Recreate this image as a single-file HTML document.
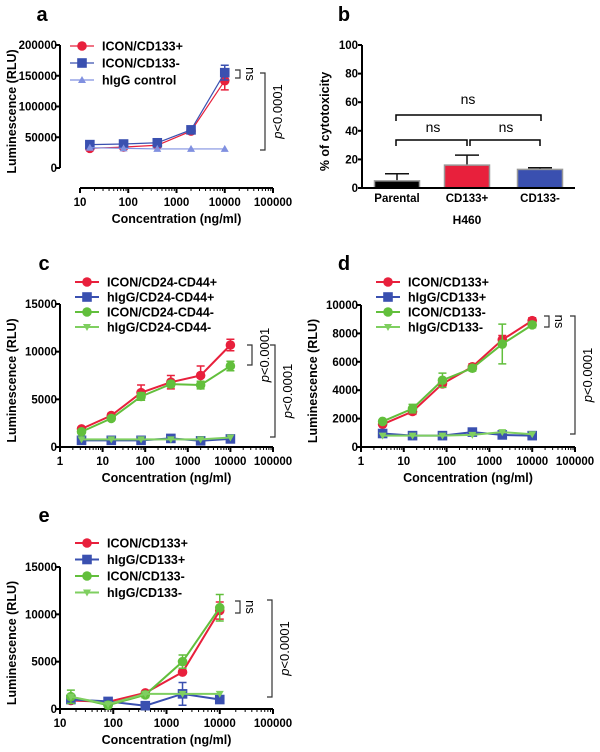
<!DOCTYPE html>
<html><head><meta charset="utf-8"><style>
body{margin:0;background:#fff}
svg{display:block;font-family:"Liberation Sans",Arial,sans-serif;font-weight:bold}
</style></head><body>
<svg id="fig" width="600" height="752" viewBox="0 0 600 752" xmlns="http://www.w3.org/2000/svg"></svg>
<script>
// ---- data ----
const aX=[16,80,400,2000,10000];
const aCD133p=[32000,34000,37000,60000,142000];
const aCD133pErr=[2000,2000,2000,3000,15000];
const aCD133n=[38000,39000,41000,62000,155000];
const aCD133nErr=[2000,2000,2000,3000,12000];
const aIgG=[33000,32000,31000,31000,31000];
const aYTicks=[0,50000,100000,150000,200000];
const bCats=["Parental","CD133+","CD133-"];
const bVals=[5,16,13];
const bErr=[5,7,1.2];
const bYTicks=[0,20,40,60,80,100];
const cX=[3.2,16,80,400,2000,10000];
const cIconP=[1900,3300,5700,6800,7500,10700];
const cIconPErr=[200,200,800,700,1000,600];
const cIgGP=[700,700,700,900,650,850];
const cIconN=[1600,3000,5300,6600,6500,8500];
const cIconNErr=[200,200,400,300,400,500];
const cIgGN=[800,800,800,800,800,1000];
const cYTicks=[0,5000,10000,15000];
const dX=[3.2,16,80,400,2000,10000];
const dIconP=[1600,2500,4450,5650,7550,8900];
const dIconPErr=[100,200,200,200,300,200];
const dIgGP=[950,800,800,1050,850,800];
const dIconN=[1800,2700,4700,5550,7250,8600];
const dIconNErr=[100,300,500,200,1400,200];
const dIgGN=[800,800,800,850,1050,900];
const dYTicks=[0,2000,4000,6000,8000,10000];
const eX=[16,80,400,2000,10000];
const eIconP=[900,750,1700,3900,10400];
const eIconPErr=[300,100,100,100,900];
const eIgGP=[1000,800,350,1600,1000];
const eIgGPErr=[0,0,0,1200,0];
const eIconN=[1300,400,1500,5000,10700];
const eIconNErr=[700,200,300,700,1400];
const eIgGN=[1300,500,1600,1600,1600];
const eYTicks=[0,5000,10000,15000];

const RED="#e8203c",BLUE="#3a50b0",GREEN="#62bf3c",LG="#7fcf60";
const svg=document.getElementById('fig');
const NS="http://www.w3.org/2000/svg";
function el(tag,at,parent){const e=document.createElementNS(NS,tag);for(const k in at)e.setAttribute(k,at[k]);(parent||svg).appendChild(e);return e;}
function txt(s,x,y,size,anchor,parent,rot){const t=el('text',{x:x,y:y,'font-size':size,'text-anchor':anchor||'middle'},parent);if(rot)t.setAttribute('transform',`rotate(${rot} ${x} ${y})`);t.textContent=s;return t;}
function fmt(v){return String(v);}

function marker(g,type,x,y,c){
  if(type==='c')el('circle',{cx:x,cy:y,r:4.8,fill:c},g);
  else if(type==='s')el('rect',{x:x-4.8,y:y-4.8,width:9.6,height:9.6,fill:c},g);
  else if(type==='t')el('polygon',{points:`${x-4},${y+3} ${x+4},${y+3} ${x},${y-4}`,fill:c},g);
  else el('polygon',{points:`${x-4},${y-3} ${x+4},${y-3} ${x},${y+4}`,fill:c},g);
}

function logPanel(o){
  const g=el('g',{},svg);
  
  
  const X=v=>o.x0+(Math.log10(v)-o.lmin)*(o.x1-o.x0)/(o.lmax-o.lmin);
  const Y=v=>o.y0-(v/o.ymax)*(o.y0-o.y1);
  el('line',{x1:o.ax,y1:o.y0,x2:o.ax,y2:o.y1,stroke:'#000','stroke-width':2},g);
  o.yt.forEach(v=>{el('line',{x1:o.ax-4,y1:Y(v),x2:o.ax,y2:Y(v),stroke:'#000','stroke-width':2},g);txt(fmt(v),o.ax-3,Y(v)+4,11.5,'end',g);});
  el('line',{x1:o.x0,y1:o.xy,x2:o.x1,y2:o.xy,stroke:'#000','stroke-width':2},g);
  for(let d=o.lmin;d<=o.lmax;d++){
    el('line',{x1:X(10**d),y1:o.xy,x2:X(10**d),y2:o.xy+5,stroke:'#000','stroke-width':2},g);
    txt(fmt(10**d),X(10**d),o.xy+18,11.5,'middle',g);
    if(d<o.lmax)for(let m=2;m<10;m++)el('line',{x1:X(m*10**d),y1:o.xy,x2:X(m*10**d),y2:o.xy+3,stroke:'#000','stroke-width':1},g);
  }
  txt('Concentration (ng/ml)',(o.x0+o.x1)/2,o.xy+35,12.5,'middle',g);
  txt('Luminescence (RLU)',o.ax-44,(o.y0+o.y1)/2+5,12.5,'middle',g,-90);
  txt(o.label,o.lx,o.ly,20,'middle',g);
  o.series.forEach((s,i)=>{
    const sg=el('g',{},g);
    
    
    const pts=o.xs.map((x,j)=>X(x)+','+Y(s.v[j])).join(' ');
    el('polyline',{points:pts,fill:'none',stroke:s.c,'stroke-width':s.w||2},sg);
    if(s.e)o.xs.forEach((x,j)=>{if(!s.e[j])return;const px=X(x),a=Y(s.v[j]+s.e[j]),b=Y(s.v[j]-s.e[j]);
      el('path',{d:`M${px},${a}V${b}M${px-4},${a}H${px+4}M${px-4},${b}H${px+4}`,stroke:s.c,'stroke-width':1.5,fill:'none'},sg);});
    o.xs.forEach((x,j)=>marker(sg,s.m,X(x),Y(s.v[j]),s.c));
    const ly=o.legY+i*o.legDy;
    const lg=el('g',{},g);
    
    
    el('line',{x1:o.legX,y1:ly,x2:o.legX+24,y2:ly,stroke:s.c,'stroke-width':s.w||2},lg);
    marker(lg,s.m,o.legX+12,ly,s.c);
    txt(s.n,o.legX+32,ly+4.5,12.5,'start',lg);
  });
  (o.br||[]).forEach(b=>{
    el('path',{d:`M${b.x-5},${b.y1}H${b.x}V${b.y2}H${b.x-5}`,stroke:'#333','stroke-width':1.2,fill:'none'},g);
    if(b.t==='ns'){const t=txt('ns',b.x+6,(b.y1+b.y2)/2,13,'middle',g,90);t.setAttribute('font-weight','normal');}
    else{const t=txt('',b.x+17,(b.y1+b.y2)/2,13,'middle',g,-90);t.setAttribute('font-weight','normal');
      const i1=el('tspan',{'font-style':'italic'},t);i1.textContent='p';const i2=el('tspan',{},t);i2.textContent='<0.0001';}
  });
}

logPanel({name:'panel-a',label:'a',lx:42,ly:21,ax:60,y0:168,y1:45,ymax:200000,yt:aYTicks,x0:80,x1:273,xy:188,lmin:1,lmax:5,xs:aX,
  legX:70,legY:46,legDy:17,
  series:[{n:'ICON/CD133+',v:aCD133p,e:aCD133pErr,c:RED,m:'c',w:1.2},{n:'ICON/CD133-',v:aCD133n,e:aCD133nErr,c:BLUE,m:'s',w:1.2},{n:'hIgG control',v:aIgG,c:'#8090e0',m:'t',w:1.2}],
  br:[{x:240,y1:70,y2:78,t:'ns'},{x:265,y1:73,y2:150,t:'p'}]});
logPanel({name:'panel-c',label:'c',lx:44,ly:270,ax:60,y0:447,y1:304,ymax:15000,yt:cYTicks,x0:60,x1:273,xy:447,lmin:0,lmax:5,xs:cX,
  legX:75,legY:282,legDy:15,
  series:[{n:'ICON/CD24-CD44+',v:cIconP,e:cIconPErr,c:RED,m:'c'},{n:'hIgG/CD24-CD44+',v:cIgGP,c:BLUE,m:'s'},{n:'ICON/CD24-CD44-',v:cIconN,e:cIconNErr,c:GREEN,m:'c'},{n:'hIgG/CD24-CD44-',v:cIgGN,c:LG,m:'v'}],
  br:[{x:252,y1:345,y2:365,t:'p'},{x:275,y1:345,y2:437,t:'p'}]});
logPanel({name:'panel-d',label:'d',lx:344,ly:270,ax:361,y0:447,y1:305,ymax:10000,yt:dYTicks,x0:361,x1:575,xy:447,lmin:0,lmax:5,xs:dX,
  legX:376,legY:282,legDy:15,
  series:[{n:'ICON/CD133+',v:dIconP,e:dIconPErr,c:RED,m:'c'},{n:'hIgG/CD133+',v:dIgGP,c:BLUE,m:'s'},{n:'ICON/CD133-',v:dIconN,e:dIconNErr,c:GREEN,m:'c'},{n:'hIgG/CD133-',v:dIgGN,c:LG,m:'v'}],
  br:[{x:549,y1:316,y2:327,t:'ns'},{x:575,y1:316,y2:434,t:'p'}]});
logPanel({name:'panel-e',label:'e',lx:44,ly:522,ax:60,y0:709,y1:567,ymax:15000,yt:eYTicks,x0:60,x1:273,xy:709,lmin:1,lmax:5,xs:eX,
  legX:75,legY:543,legDy:16.5,
  series:[{n:'ICON/CD133+',v:eIconP,e:eIconPErr,c:RED,m:'c'},{n:'hIgG/CD133+',v:eIgGP,e:eIgGPErr,c:BLUE,m:'s'},{n:'ICON/CD133-',v:eIconN,e:eIconNErr,c:GREEN,m:'c'},{n:'hIgG/CD133-',v:eIgGN,c:LG,m:'v'}],
  br:[{x:240,y1:601,y2:613,t:'ns'},{x:272,y1:600,y2:697,t:'p'}]});

(function(){
  const g=el('g',{},svg);
  
  
  const ax=362,y0=188,y1=45,x1=575;
  const Y=v=>y0-v/100*(y0-y1);
  const cx=[397,467,540],bw=45,cols=['#000',RED,'#3a50b0'];
  txt('b',344,21,20,'middle',g);
  el('line',{x1:ax,y1:y0,x2:ax,y2:y1,stroke:'#000','stroke-width':2},g);
  bYTicks.forEach(v=>{el('line',{x1:ax-4,y1:Y(v),x2:ax,y2:Y(v),stroke:'#000','stroke-width':2},g);txt(String(v),ax-4,Y(v)+4,11.5,'end',g);});
  txt('% of cytotoxicity',ax-33,(y0+y1)/2+5,12.5,'middle',g,-90);
  bCats.forEach((c,i)=>{
    const bg=el('g',{},g);
    
    
    const top=Y(bVals[i]+bErr[i]);
    el('path',{d:`M${cx[i]},${Y(bVals[i])}V${top}M${cx[i]-12},${top}H${cx[i]+12}`,stroke:'#111','stroke-width':1.5,fill:'none'},bg);
    el('rect',{x:cx[i]-bw/2,y:Y(bVals[i]),width:bw,height:y0-Y(bVals[i]),fill:cols[i],stroke:'#999','stroke-width':1.5},bg);
    txt(c,cx[i],202,11.5,'middle',bg);
  });
  el('line',{x1:ax,y1:y0,x2:x1,y2:y0,stroke:'#000','stroke-width':2},g);
  txt('H460',467,224,12,'middle',g);
  const br=(xa,xb,y)=>el('path',{d:`M${xa},${y+6}V${y}H${xb}V${y+6}`,stroke:'#000','stroke-width':1.5,fill:'none'},g);
  br(396,541,115);br(396,467,140);br(470,540,140);
  [[468,104],[433,132],[506,132]].forEach(p=>{const t=txt('ns',p[0],p[1],14,'middle',g);t.setAttribute('font-weight','normal');});
})();
</script>
</body></html>
